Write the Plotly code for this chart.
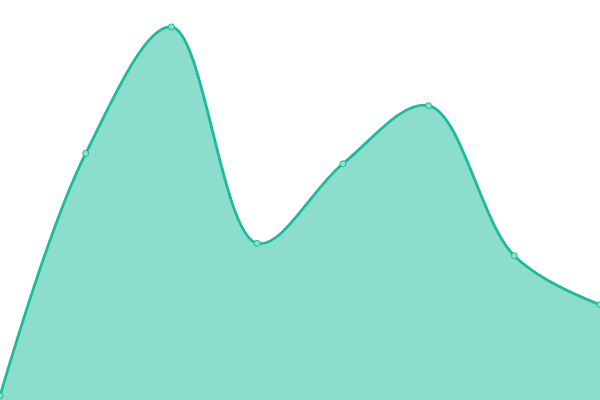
import plotly.graph_objects as go

x_vals = [0, 1, 2, 3, 4, 5, 6, 7]
y_vals = [1, 59.5, 90, 37.8, 57, 71, 34.8, 23]

fig = go.Figure(
    go.Scatter(
        x=x_vals,
        y=y_vals,
        mode="lines+markers",
        line=dict(color="#1abc9c", width=2.8, shape="spline", smoothing=1),
        marker=dict(size=6, color="#8ce0cd", line=dict(color="#1abc9c", width=1)),
        fill="tozeroy",
        fillcolor="rgba(26,188,156,0.5)",
    )
)
fig.update_layout(
    width=600,
    height=400,
    margin=dict(l=0, r=0, t=0, b=0),
    showlegend=False,
    plot_bgcolor="white",
    paper_bgcolor="white",
    xaxis=dict(range=[0, 7], visible=False),
    yaxis=dict(range=[0, 96.5], visible=False),
)
# drop the browser's default page margin so the chart sits at 0,0
fig.write_html(
    "out.html",
    config={"displayModeBar": False},
    post_script="document.body.style.margin='0';",
)
